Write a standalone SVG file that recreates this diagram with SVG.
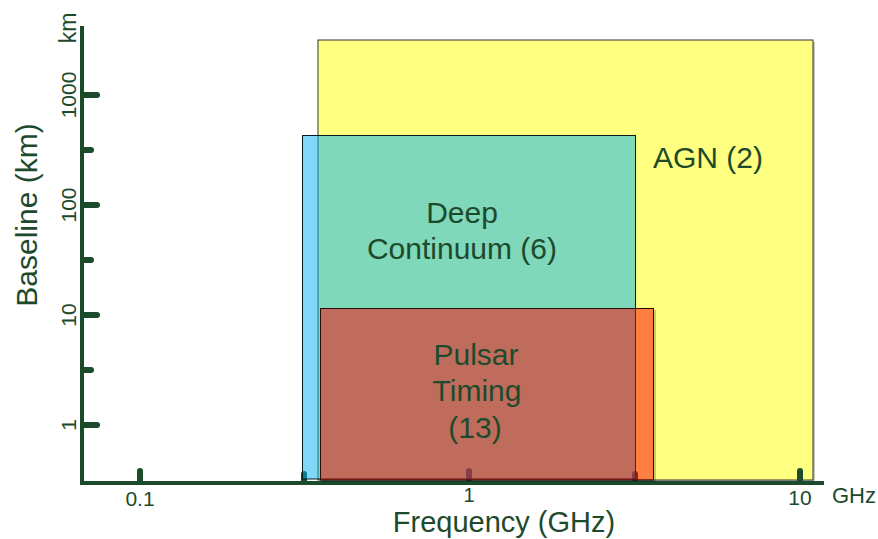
<svg xmlns="http://www.w3.org/2000/svg" width="878" height="539" viewBox="0 0 878 539">
  <style>
    .axis { stroke: #1b4b2b; stroke-width: 4; fill: none; stroke-linecap: square; }
    .tick { stroke: #1b4b2b; stroke-width: 6; stroke-linecap: round; fill: none; }
    .lbl { font-family: "Liberation Sans", Arial, sans-serif; fill: #1d4a2c; }
    .num { font-size: 21px; }
    .big { font-size: 30px; }
    .shadow { fill: #000; opacity: 0.22; }
    .edge { stroke: #000; stroke-opacity: 0.2; stroke-width: 2; fill: none; }
  </style>

  <rect width="878" height="539" fill="#ffffff"/>

  <!-- AGN region (opaque, lowest layer) -->
  <g id="agn">
    <rect class="shadow" x="320" y="42" width="495" height="440"/>
    <rect x="318" y="40" width="495" height="440" fill="#ffff80" stroke="#333" stroke-width="1"/>
    <text class="lbl big" text-anchor="middle" x="708" y="168">AGN (2)</text>
  </g>

  <!-- axes, ticks and scale labels -->
  <g id="axes">
    <line class="axis" x1="82" y1="28" x2="82" y2="483"/>
    <line class="axis" x1="82" y1="483" x2="822" y2="483"/>

    <!-- baseline ticks (log scale, decades every 110 px) -->
    <line class="tick" x1="84" y1="95" x2="97" y2="95"/>
    <line class="tick" x1="84" y1="150" x2="91" y2="150"/>
    <line class="tick" x1="84" y1="205" x2="97" y2="205"/>
    <line class="tick" x1="84" y1="260" x2="91" y2="260"/>
    <line class="tick" x1="84" y1="315" x2="97" y2="315"/>
    <line class="tick" x1="84" y1="370" x2="91" y2="370"/>
    <line class="tick" x1="84" y1="425" x2="97" y2="425"/>

    <!-- frequency ticks -->
    <line class="tick" x1="140" y1="471" x2="140" y2="481"/>
    <line class="tick" x1="304" y1="474" x2="304" y2="481"/>
    <line class="tick" x1="469" y1="471" x2="469" y2="481"/>
    <line class="tick" x1="635" y1="474" x2="635" y2="481"/>
    <line class="tick" x1="800" y1="471" x2="800" y2="481"/>

    <g class="lbl num" text-anchor="middle">
      <text transform="translate(76,28) rotate(-90)" font-size="23">km</text>
      <text transform="translate(76,95) rotate(-90)">1000</text>
      <text transform="translate(76,205) rotate(-90)">100</text>
      <text transform="translate(76,315) rotate(-90)">10</text>
      <text transform="translate(76,425) rotate(-90)">1</text>
      <text x="140" y="506">0.1</text>
      <text x="469" y="502" font-size="20">1</text>
      <text x="800" y="505">10</text>
    </g>
    <text class="lbl" x="832" y="503" font-size="22">GHz</text>

    <text class="lbl big" text-anchor="middle" transform="translate(37,215) rotate(-90)">Baseline (km)</text>
    <text class="lbl" text-anchor="middle" x="504" y="532" font-size="29">Frequency (GHz)</text>
  </g>

  <!-- Deep continuum region -->
  <g id="deep-continuum">
    <rect x="302.5" y="135.5" width="333" height="343.5" fill="#00b1f1" fill-opacity="0.5" stroke="#0a1a22" stroke-width="1"/>
    <text class="lbl big" text-anchor="middle" x="462" y="223">Deep</text>
    <text class="lbl big" text-anchor="middle" x="462" y="259">Continuum (6)</text>
  </g>

  <!-- Pulsar timing region -->
  <g id="pulsar-timing">
    <path class="edge" d="M655 310 V481 H322"/>
    <rect x="320.5" y="308.5" width="333" height="171.5" fill="#ff0000" fill-opacity="0.5" stroke="#2a0c08" stroke-width="1"/>
    <text class="lbl big" text-anchor="middle" x="476" y="365">Pulsar</text>
    <text class="lbl big" text-anchor="middle" x="477" y="401">Timing</text>
    <text class="lbl big" text-anchor="middle" x="475" y="438">(13)</text>
  </g>
</svg>
